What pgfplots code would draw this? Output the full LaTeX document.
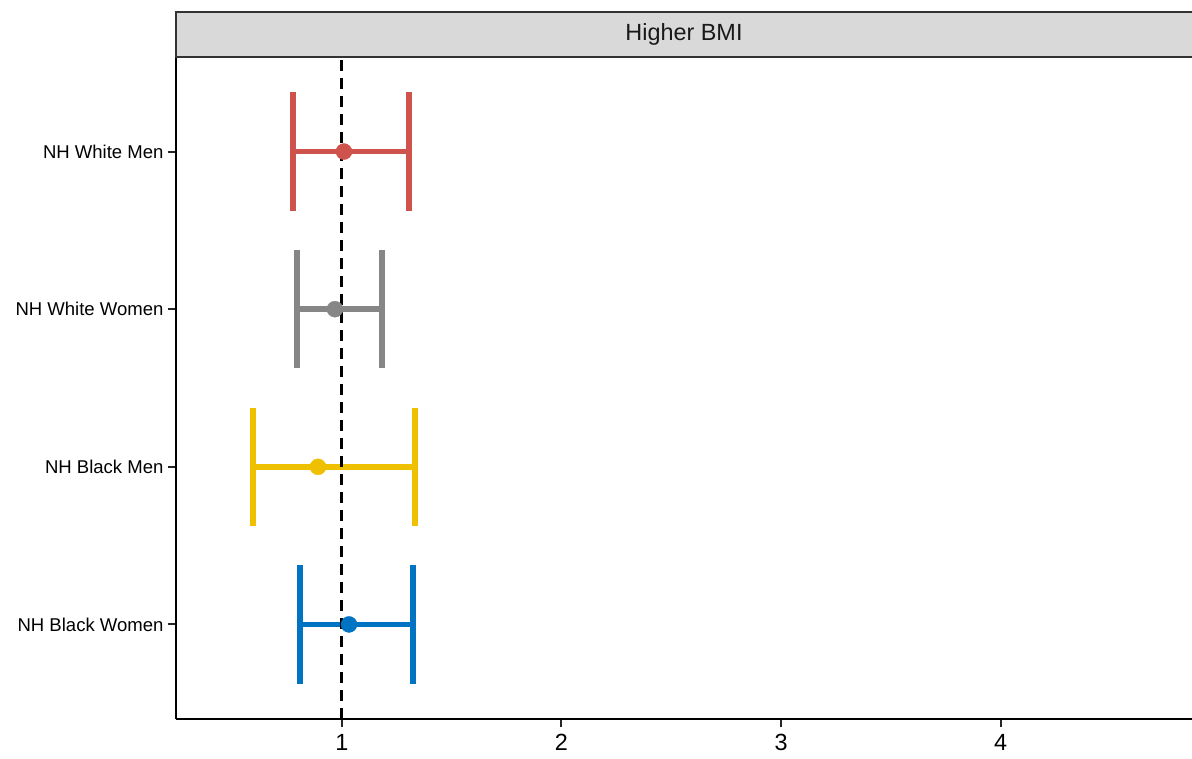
\documentclass[border=0pt]{standalone}
\usepackage{pgfplots}
\pgfplotsset{compat=1.18}
\usepackage{fontspec}
\setmainfont{Liberation Sans}
\definecolor{jcored}{HTML}{CD534C}
\definecolor{jcogray}{HTML}{868686}
\definecolor{jcoyellow}{HTML}{EFC000}
\definecolor{jcoblue}{HTML}{0073C2}
\definecolor{stripfill}{HTML}{D9D9D9}
\definecolor{stripdraw}{HTML}{333333}
\begin{document}
\begin{tikzpicture}
\path[use as bounding box] (0,0) rectangle (1192bp,759bp);
\begin{axis}[
  at={(176bp,40bp)}, anchor=south west,
  scale only axis, width=1016bp, height=662bp,
  xmin=0.244, xmax=4.872, ymin=0.4, ymax=4.6,
  axis x line*=bottom, axis y line*=left,
  axis line style={-, line width=2.8bp, black},
  xtick={1,2,3,4}, ytick={1,2,3,4},
  yticklabels={NH Black Women, NH Black Men, NH White Women, NH White Men},
  tick style={line width=2bp, black!85},
  tick align=outside, major tick length=8bp,
  x tick label style={font=\fontsize{23.5}{24}\selectfont, yshift=-4bp, text=black},
  y tick label style={font=\fontsize{18.6}{19}\selectfont, text=black, xshift=-1bp},
  /pgf/number format/assume math mode=true,
  clip=false,
]
% NH White Men (y=4)
\addplot[jcored, line width=5.5bp, forget plot] coordinates {(0.777,4) (1.305,4)};
\addplot[jcored, line width=5.5bp, forget plot] coordinates {(0.777,3.625) (0.777,4.375)};
\addplot[jcored, line width=5.5bp, forget plot] coordinates {(1.305,3.625) (1.305,4.375)};
\addplot[jcored, only marks, mark=*, mark size=8bp, forget plot] coordinates {(1.009,4)};
% NH White Women (y=3)
\addplot[jcogray, line width=5.5bp, forget plot] coordinates {(0.795,3) (1.182,3)};
\addplot[jcogray, line width=5.5bp, forget plot] coordinates {(0.795,2.625) (0.795,3.375)};
\addplot[jcogray, line width=5.5bp, forget plot] coordinates {(1.182,2.625) (1.182,3.375)};
\addplot[jcogray, only marks, mark=*, mark size=8bp, forget plot] coordinates {(0.968,3)};
% NH Black Men (y=2)
\addplot[jcoyellow, line width=5.5bp, forget plot] coordinates {(0.595,2) (1.333,2)};
\addplot[jcoyellow, line width=5.5bp, forget plot] coordinates {(0.595,1.625) (0.595,2.375)};
\addplot[jcoyellow, line width=5.5bp, forget plot] coordinates {(1.333,1.625) (1.333,2.375)};
\addplot[jcoyellow, only marks, mark=*, mark size=8bp, forget plot] coordinates {(0.891,2)};
% NH Black Women (y=1)
\addplot[jcoblue, line width=5.5bp, forget plot] coordinates {(0.809,1) (1.323,1)};
\addplot[jcoblue, line width=5.5bp, forget plot] coordinates {(0.809,0.625) (0.809,1.375)};
\addplot[jcoblue, line width=5.5bp, forget plot] coordinates {(1.323,0.625) (1.323,1.375)};
\addplot[jcoblue, only marks, mark=*, mark size=8bp, forget plot] coordinates {(1.032,1)};
% reference line
\addplot[black, line width=3bp, dash pattern=on 11bp off 7bp, forget plot] coordinates {(1,0.4) (1,4.6)};
% facet strip
\draw[draw=stripdraw, line width=1.5bp, fill=stripfill] (rel axis cs:0,1) rectangle ([xshift=5bp,yshift=45bp]rel axis cs:1,1);
\node[font=\fontsize{23.5}{24}\selectfont, text=black!90] at ([yshift=22.5bp]rel axis cs:0.5,1) {Higher BMI};
\end{axis}
\end{tikzpicture}
\end{document}
